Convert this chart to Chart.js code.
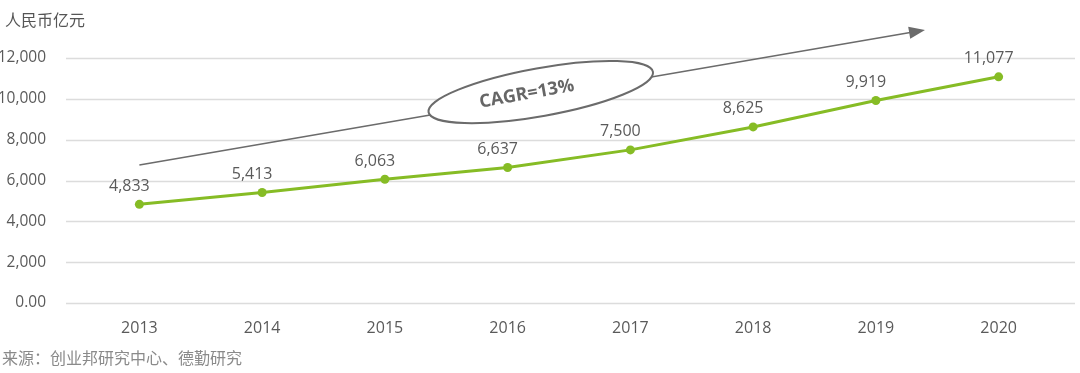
<!DOCTYPE html>
<html>
<head>
<meta charset="utf-8">
<script src="https://cdn.jsdelivr.net/npm/chart.js@4/dist/chart.umd.min.js"></script>
<style>
  html, body { margin: 0; padding: 0; background: #fff; }
  #wrap { width: 1080px; height: 373px; }
</style>
</head>
<body>
<div id="wrap"><canvas id="marketChart" width="1080" height="373"></canvas></div>
<script>
const years = ['2013', '2014', '2015', '2016', '2017', '2018', '2019', '2020'];
const marketSize = [4833, 5413, 6063, 6637, 7500, 8625, 9919, 11077];
const yTicks = [0, 2000, 4000, 6000, 8000, 10000, 12000];
const unitLabel = '人民币亿元';
const sourceLabel = '来源：创业邦研究中心、德勤研究';
const cagrLabel = 'CAGR=13%';

const FONT = "'Open Sans', 'Noto Sans CJK SC', sans-serif";
const TEXT = '#5a5a5a';
const GREEN = '#86bc25';

// long horizontal gridlines, a bit wider than the plot area
const gridPlugin = {
  id: 'wideGrid',
  beforeDatasetsDraw(chart) {
    const ctx = chart.ctx;
    const y = chart.scales.y;
    ctx.save();
    ctx.strokeStyle = '#dcdcdc';
    ctx.lineWidth = 1.5;
    yTicks.forEach(v => {
      const py = Math.round(y.getPixelForValue(v)) + 0.5;
      ctx.beginPath();
      ctx.moveTo(chart.chartArea.left - 12, py);
      ctx.lineTo(chart.chartArea.right + 15, py);
      ctx.stroke();
    });
    ctx.restore();
  }
};

// CAGR arrow + ellipse, value labels, unit and source text
const annotPlugin = {
  id: 'annot',
  afterDatasetsDraw(chart) {
    const ctx = chart.ctx;
    const x = chart.scales.x;
    const y = chart.scales.y;

    ctx.save();
    // arrow
    const x1 = x.getPixelForValue(0), y1 = y.getPixelForValue(6760);
    const x2 = x.getPixelForValue(6.4), y2 = y.getPixelForValue(13370);
    const ang = Math.atan2(y2 - y1, x2 - x1);
    ctx.strokeStyle = '#6b6b6b';
    ctx.fillStyle = '#6b6b6b';
    ctx.lineWidth = 1.5;
    ctx.beginPath();
    ctx.moveTo(x1, y1);
    ctx.lineTo(x2 - 12 * Math.cos(ang), y2 - 12 * Math.sin(ang));
    ctx.stroke();
    ctx.beginPath();
    ctx.moveTo(x2, y2);
    ctx.lineTo(x2 - 16 * Math.cos(ang) + 6 * Math.sin(ang), y2 - 16 * Math.sin(ang) - 6 * Math.cos(ang));
    ctx.lineTo(x2 - 16 * Math.cos(ang) - 6 * Math.sin(ang), y2 - 16 * Math.sin(ang) + 6 * Math.cos(ang));
    ctx.closePath();
    ctx.fill();

    // ellipse
    const cx = x.getPixelForValue(3.27), cy = y.getPixelForValue(10330);
    const rot = -10.2 * Math.PI / 180;
    ctx.beginPath();
    ctx.ellipse(cx, cy, 114, 24, rot, 0, Math.PI * 2);
    ctx.fillStyle = '#fff';
    ctx.fill();
    ctx.strokeStyle = '#6b6b6b';
    ctx.lineWidth = 2;
    ctx.stroke();

    ctx.translate(cx - 14, cy + 2);
    ctx.rotate(rot);
    ctx.fillStyle = '#666';
    ctx.font = "bold 18px " + FONT;
    ctx.textAlign = 'center';
    ctx.textBaseline = 'middle';
    ctx.fillText(cagrLabel, 0, 0);
    ctx.restore();

    // value labels
    ctx.save();
    ctx.font = '16px ' + FONT;
    ctx.fillStyle = TEXT;
    ctx.textAlign = 'center';
    ctx.textBaseline = 'middle';
    chart.getDatasetMeta(0).data.forEach((pt, i) => {
      ctx.fillText(marketSize[i].toLocaleString('en-US'), pt.x - 10, pt.y - 18);
    });

    // unit + source
    ctx.textAlign = 'left';
    ctx.font = "16px 'Noto Sans CJK SC', sans-serif";
    ctx.fillStyle = '#555';
    ctx.fillText(unitLabel, 5, 20);
    ctx.fillStyle = '#8a8a8a';
    ctx.fillText(sourceLabel, 2, 358);
    ctx.restore();
  }
};

new Chart(document.getElementById('marketChart'), {
  type: 'line',
  data: {
    labels: years,
    datasets: [{
      data: marketSize,
      borderColor: GREEN,
      backgroundColor: GREEN,
      borderWidth: 3,
      pointRadius: 4.5,
      pointBackgroundColor: GREEN,
      pointBorderWidth: 0,
      tension: 0
    }]
  },
  options: {
    responsive: false,
    animation: false,
    layout: { padding: { top: 58, right: 20, left: 0, bottom: 0 } },
    plugins: { legend: { display: false }, tooltip: { enabled: false } },
    scales: {
      x: {
        offset: true,
        grid: { display: false },
        border: { display: false },
        ticks: { color: TEXT, font: { family: FONT, size: 16 }, padding: 8 },
        afterFit: s => { s.height = 70; }
      },
      y: {
        min: 0,
        max: 12000,
        afterBuildTicks: s => { s.ticks = yTicks.map(v => ({ value: v })); },
        grid: { display: false },
        border: { display: false },
        ticks: {
          color: TEXT,
          font: { family: FONT, size: 15.5 },
          padding: 24,
          callback: v => v === 0 ? '0.00' : v.toLocaleString('en-US')
        },
        afterFit: s => { s.width = 78; }
      }
    }
  },
  plugins: [gridPlugin, annotPlugin]
});
</script>
</body>
</html>
